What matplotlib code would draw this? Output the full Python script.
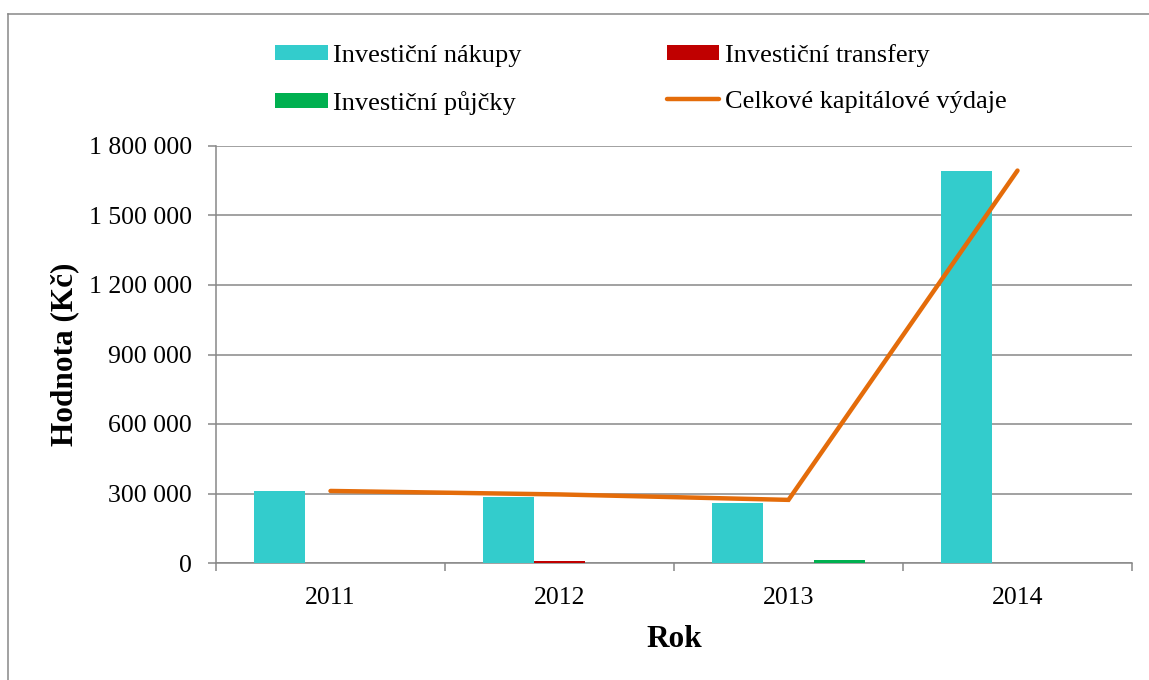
import matplotlib
matplotlib.use("Agg")
import matplotlib.pyplot as plt
import numpy as np
from matplotlib.lines import Line2D
from matplotlib.ticker import FuncFormatter, MultipleLocator

# data (Kč)
years = ["2011", "2012", "2013", "2014"]
nakupy = [311000, 286000, 259000, 1694000]
transfery = [0, 10000, 1500, 0]
pujcky = [0, 0, 12000, 0]
celkem = [311000, 296000, 272500, 1694000]

plt.rcParams['font.family'] = ['Liberation Serif', 'DejaVu Serif']

GRID = '#888888'
fig = plt.figure(figsize=(11.49, 6.8), dpi=100)
ax = fig.add_axes([216 / 1149, 1 - 563 / 680, (1132 - 216) / 1149, (563 - 146) / 680])

x = np.arange(len(years))
w = 0.224
b1 = ax.bar(x - w, nakupy, w, color='#33CCCC', label='Investiční nákupy', zorder=3)
b2 = ax.bar(x, transfery, w, color='#C00000', label='Investiční transfery', zorder=3)
b3 = ax.bar(x + w, pujcky, w, color='#00B050', label='Investiční půjčky', zorder=3)
ln, = ax.plot(x, celkem, color='#E46C0A', lw=3.2, solid_capstyle='round',
              solid_joinstyle='miter', label='Celkové kapitálové výdaje', zorder=4)

ax.set_xlim(-0.5, 3.5)
ax.set_ylim(0, 1800000)
ax.yaxis.set_major_locator(MultipleLocator(300000))
ax.yaxis.set_major_formatter(FuncFormatter(lambda v, p: f"{v:,.0f}".replace(",", " ")))
ax.grid(axis='y', color=GRID, lw=1.1, zorder=0)

ax.set_xticks(x)
ax.set_xticklabels(years)
ax.set_xticks(np.arange(-0.5, 4.0, 1.0), minor=True)
ax.tick_params(axis='x', which='major', length=0, pad=17, labelsize=18.5)
ax.tick_params(axis='x', which='minor', length=5.8, width=1.1, color=GRID)
ax.tick_params(axis='y', length=5.8, width=1.1, color=GRID, pad=11.5, labelsize=18.5)

for s in ['top', 'right']:
    ax.spines[s].set_visible(False)
for s in ['left', 'bottom']:
    ax.spines[s].set_color(GRID)
    ax.spines[s].set_linewidth(1.1)

ax.set_xlabel('Rok', fontsize=22.5, fontweight='bold', labelpad=12)
ax.set_ylabel('Hodnota (Kč)', fontsize=22.5, fontweight='bold', labelpad=7)

fig.legend([b1, b3, b2, ln],
           ['Investiční nákupy', 'Investiční půjčky', 'Investiční transfery', 'Celkové kapitálové výdaje'],
           ncol=2, loc='upper left', bbox_to_anchor=(275 / 1149, 1 - 44 / 680),
           frameon=False, fontsize=19, borderpad=0, borderaxespad=0,
           handlelength=2.0, handleheight=0.5, handletextpad=0.2,
           columnspacing=5.5, labelspacing=0.9)

# chart border (only top and left edges are visible in the crop)
fig.add_artist(Line2D([8 / 1149, 8 / 1149], [0, 1 - 14 / 680], color=GRID, lw=1.1))
fig.add_artist(Line2D([8 / 1149, 1], [1 - 14 / 680, 1 - 14 / 680], color=GRID, lw=1.1))

fig.savefig('out.png', dpi=100)
